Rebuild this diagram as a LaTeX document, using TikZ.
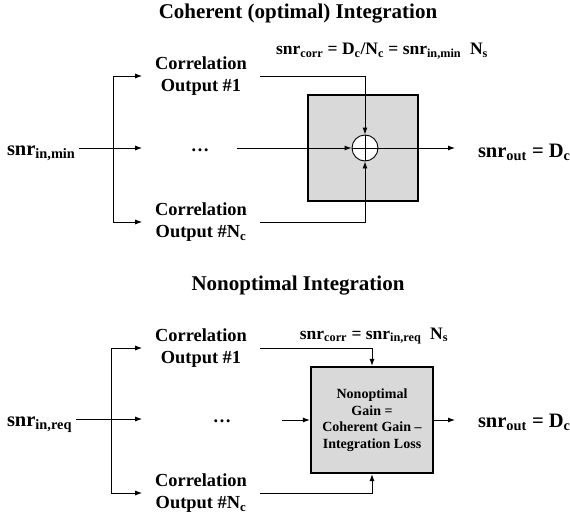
\documentclass[tikz,border=0pt]{standalone}
\usepackage{fontspec}
\setmainfont{Liberation Serif}
\usetikzlibrary{arrows.meta,positioning}
\begin{document}
\begin{tikzpicture}[x=1pt,y=-1pt,line width=0.9pt,
    >={Latex[length=7pt,width=5pt]},
    heading/.style={font=\bfseries\fontsize{21}{25}\selectfont,anchor=base},
    snrlabel/.style={font=\bfseries\fontsize{20.5}{24}\selectfont,inner sep=0pt,outer xsep=4pt,anchor=base west},
    outlabel/.style={snrlabel,outer xsep=23pt},
    corrout/.style={font=\bfseries\fontsize{18.4}{22}\selectfont,align=center,inner xsep=0pt,outer xsep=13pt},
    dotsnode/.style={font=\bfseries\fontsize{18.4}{22}\selectfont,inner sep=0pt,anchor=base},
    eqlabel/.style={font=\bfseries\fontsize{17.5}{20}\selectfont,inner sep=0pt,anchor=base},
    gainbox/.style={draw,line width=2.2pt,fill=black!15,inner sep=0pt},
    summer/.style={draw,circle,fill=white,minimum size=26pt,inner sep=0pt}]
    \useasboundingbox (0,0) rectangle (570,519);

    %% Coherent integration
    \node[heading] (headA) at (298,19) {Coherent (optimal) Integration};
    \node[snrlabel] (inA) at (3,155) {snr\textsubscript{in,min}};
    \node[corrout] (firstA) at (201,76) {Correlation\\Output \#1};
    \node[corrout] (lastA) at (201,222) {Correlation\\Output \#N\textsubscript{c}};
    \node[dotsnode] (dotsA) at (200,151) {\dots};
    \node[gainbox,minimum width=110pt,minimum height=106pt] (boxA) at (363,148) {};
    \node[summer] (sumA) at (365,148) {};
    \node[outlabel] (outA) at (455,157) {snr\textsubscript{out} = D\textsubscript{c}};
    \node[eqlabel] (eqA) at (382,55) {snr\textsubscript{corr} = D\textsubscript{c}/N\textsubscript{c} = snr\textsubscript{in,min}\ \ N\textsubscript{s}};
    %% Branches
    \coordinate (splitA) at (113,148);
    \coordinate (dotsendA) at (237,148);
    \draw[->] (inA.east |- splitA) -- (firstA.west |- splitA);
    \draw (splitA |- firstA) -- (splitA |- lastA);
    \draw[->] (splitA |- firstA) -- (firstA.west);
    \draw[->] (splitA |- lastA) -- (lastA.west);
    %% Into the summer
    \draw[->] (dotsendA) -- (sumA.west);
    \draw[->] (firstA.east) -| (sumA.north);
    \draw[->] (lastA.east) -| (sumA.south);
    \draw (sumA.north) -- (sumA.south) (sumA.west) -- (sumA.east);
    \draw[->] (sumA.east) -- (outA.west |- sumA);

    %% Nonoptimal integration
    \node[heading] (headB) at (298,290) {Nonoptimal Integration};
    \node[snrlabel] (inB) at (3,426) {snr\textsubscript{in,req}};
    \node[corrout] (firstB) at (201,348) {Correlation\\Output \#1};
    \node[corrout] (lastB) at (201,493) {Correlation\\Output \#N\textsubscript{c}};
    \node[dotsnode] (dotsB) at (222,422) {\dots};
    \node[gainbox,minimum width=122pt,minimum height=106pt,align=center,
          font=\bfseries\fontsize{14}{16.5}\selectfont] (boxB) at (372,420)
          {Nonoptimal\\Gain =\\Coherent Gain --\\Integration Loss};
    \node[outlabel] (outB) at (455,427) {snr\textsubscript{out} = D\textsubscript{c}};
    \node[eqlabel] (eqB) at (374,339) {snr\textsubscript{corr} = snr\textsubscript{in,req}\ \ N\textsubscript{s}};
    %% Branches
    \coordinate (splitB) at (111,419);
    \coordinate (dotsendB) at (282,420);
    \draw[->] (inB.east |- splitB) -- (firstB.west |- splitB);
    \draw (splitB |- firstB) -- (splitB |- lastB);
    \draw[->] (splitB |- firstB) -- (firstB.west);
    \draw[->] (splitB |- lastB) -- (lastB.west);
    %% Into the gain block
    \draw[->] (dotsendB) -- (boxB.west);
    \draw[->] (firstB.east) -| (boxB.north);
    \draw[->] (lastB.east) -| (boxB.south);
    \draw[->] (boxB.east) -- (outB.west |- boxB);
\end{tikzpicture}
\end{document}
